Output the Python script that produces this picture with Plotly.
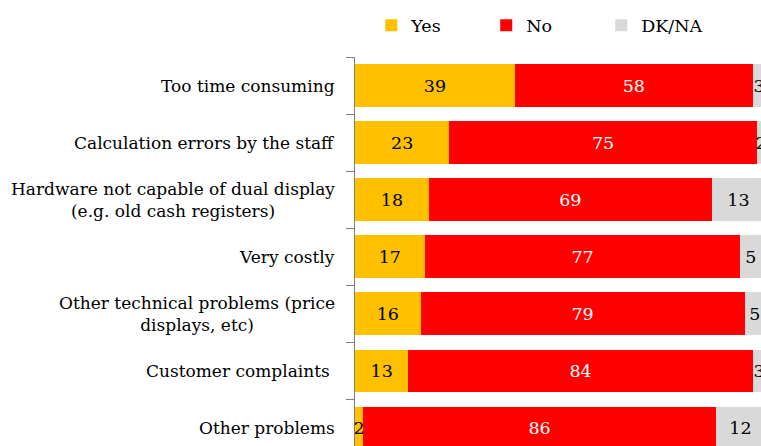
import plotly.graph_objects as go

categories = [
    "Too time consuming",
    "Calculation errors by the staff",
    "Hardware not capable of dual display<br>(e.g. old cash registers)",
    "Very costly",
    "Other technical problems (price<br>displays, etc)",
    "Customer complaints ",
    "Other problems",
]
yes = [39, 23, 18, 17, 16, 13, 2]
no = [58, 75, 69, 77, 79, 84, 86]
dkna = [3, 2, 13, 5, 5, 3, 12]

series = [
    ("Yes", yes, "#FFC000", "#000000"),
    ("No", no, "#FF0000", "#FFFFFF"),
    ("DK/NA", dkna, "#D9D9D9", "#000000"),
]

FONT = "DejaVu Serif"
FS = 17
fig = go.Figure()
for name, vals, color, tcol in series:
    fig.add_trace(go.Bar(
        name=name, y=categories, x=vals, orientation="h",
        marker=dict(color=color, line=dict(width=0)),
        text=[str(v) for v in vals], textposition="inside",
        insidetextanchor="middle", textangle=0,
        textfont=dict(family=FONT, size=17.5, color=tcol),
        width=0.75,
    ))

for c in categories:
    fig.add_annotation(
        x=0, xref="paper", y=c, yref="y", text=c, showarrow=False,
        xanchor="right", xshift=-18, align="center",
        font=dict(family=FONT, size=FS, color="#000000"),
    )

fig.update_layout(
    width=761, height=446,
    margin=dict(l=355, r=0, t=57, b=0),
    barmode="stack",
    plot_bgcolor="white", paper_bgcolor="white",
    uniformtext=dict(mode="show", minsize=17.5),
    font=dict(family=FONT, size=FS, color="#000000"),
    legend=dict(orientation="h", x=0.04, xanchor="left", y=1.035, yanchor="bottom",
                traceorder="normal", entrywidth=70,
                font=dict(family=FONT, size=17.5, color="#000000")),
    xaxis=dict(range=[0, 99.0], showgrid=False, zeroline=False, showticklabels=False,
               showline=False, fixedrange=True),
    yaxis=dict(type="category", categoryorder="array", categoryarray=categories,
               range=[6.315, -0.5], showticklabels=False, showgrid=False,
               tickson="boundaries", ticks="outside", ticklen=8, tickcolor="#7F7F7F",
               showline=True, linecolor="#7F7F7F", linewidth=1),
    bargap=0.25,
)

fig.write_html("out.html")
